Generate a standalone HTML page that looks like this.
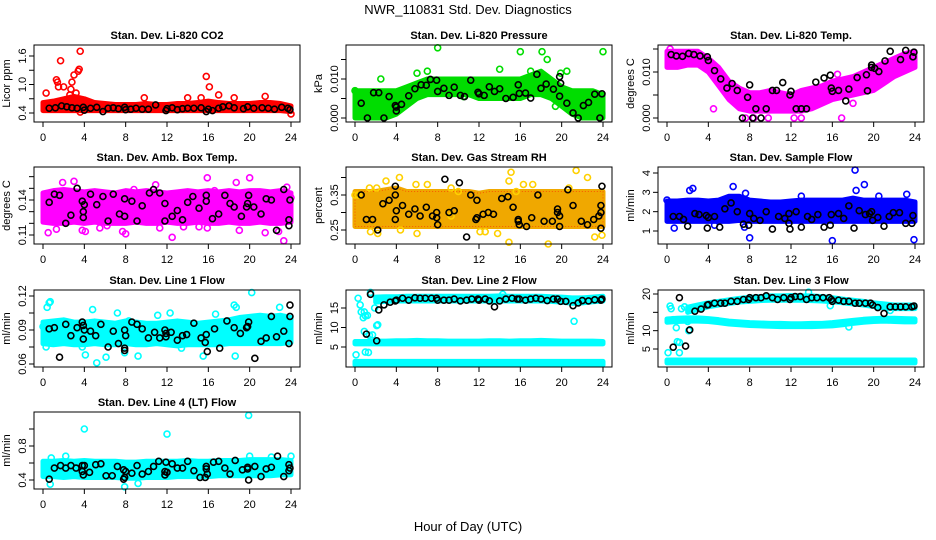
<!DOCTYPE html>
<html><head><meta charset="utf-8"><style>
html,body{margin:0;padding:0;background:#fff;}
svg{display:block;font-family:"Liberation Sans",Arial,sans-serif;}
</style></head><body>
<svg id="chart" width="936" height="540" viewBox="0 0 936 540">
<text x="468" y="14" text-anchor="middle" font-size="13">NWR_110831  Std. Dev. Diagnostics</text>
<text x="468" y="531" text-anchor="middle" font-size="13">Hour of Day (UTC)</text>
</svg>
<script>
const hours = [0,1,2,3,4,5,6,7,8,9,10,11,12,13,14,15,16,17,18,19,20,21,22,23,24];
const xTicks = [0,4,8,12,16,20,24];

const co2Lo = [0.45,0.45,0.45,0.45,0.45,0.45,0.45,0.45,0.45,0.45,0.45,0.45,0.45,0.45,0.45,0.45,0.45,0.45,0.45,0.45,0.45,0.45,0.45,0.45,0.43];
const co2Hi = [0.62,0.65,0.7,0.75,0.7,0.62,0.6,0.58,0.58,0.58,0.6,0.58,0.58,0.6,0.6,0.62,0.65,0.62,0.6,0.6,0.6,0.62,0.62,0.6,0.55];
const co2Pts = [[0.3,0.82],[1.3,1.1],[1.4,1.05],[1.5,0.95],[1.7,1.5],[2.0,0.95],[2.7,0.9],[2.8,1.05],[3.0,1.2],[3.4,1.28],[3.5,1.32],[3.6,1.7],[3.2,0.82],[2.6,0.78],[15.8,1.17],[16.1,0.95],[17.0,0.78],[9.8,0.72],[15.3,0.72],[18.5,0.72],[21.5,0.75],[24,0.38],[3.6,0.42],[14,0.72]];
const co2Ref = [[0.6,0.5],[1.2,0.51],[1.8,0.55],[2.3,0.53],[2.8,0.51],[3.3,0.5],[3.9,0.52],[4,0.46],[4.6,0.5],[5.2,0.52],[5.8,0.43],[6.3,0.5],[6.8,0.51],[7.3,0.49],[7.9,0.52],[8,0.47],[8.5,0.48],[9.0,0.5],[9.6,0.48],[10.2,0.48],[10.9,0.57],[11.9,0.45],[12,0.49],[12.5,0.51],[13,0.47],[13.5,0.49],[14,0.5],[14.6,0.5],[15.3,0.51],[15.8,0.43],[16,0.48],[16.4,0.45],[17,0.5],[17.4,0.53],[18,0.55],[18.5,0.51],[19.4,0.49],[19.8,0.53],[20.4,0.5],[21.2,0.51],[21.8,0.5],[22.4,0.48],[23.1,0.52],[23.7,0.5],[23.9,0.47]];

const presLo = [0,0,0,0,0.001,0.003,0.005,0.006,0.006,0.006,0.006,0.006,0.005,0.005,0.005,0.005,0.005,0.006,0.006,0.005,0.003,0.001,0,0,0];
const presHi = [0.007,0.007,0.007,0.007,0.007,0.008,0.009,0.010,0.010,0.010,0.010,0.010,0.010,0.010,0.010,0.010,0.010,0.011,0.012,0.010,0.008,0.007,0.007,0.007,0.006];
const presPts = [[8,0.018],[16,0.017],[18.1,0.017],[18.6,0.015],[24,0.017],[7,0.012],[14,0.0125],[6,0.0115],[2.5,0.01],[17,0.012],[19.9,0.0115],[20.5,0.012],[19.4,0.003],[0,0.007],[10.5,0.0055]];
const presRef = [[0.6,0.0038],[1.2,0],[1.8,0.0065],[2.3,0.0065],[2.8,0],[3.3,0.0055],[3.9,0.0032],[4,0.0018],[4,0.0028],[4.5,0.0035],[5.2,0.0057],[5.8,0.0075],[6.4,0.0085],[6.9,0.0084],[7.3,0.0099],[7.9,0.0097],[8,0.0068],[8.6,0.0076],[9.1,0.0058],[9.6,0.0079],[10.2,0.0058],[10.6,0.0055],[11.2,0.0097],[11.9,0.0066],[12,0.0062],[12.5,0.0058],[13,0.008],[13.5,0.0068],[14,0.0075],[14.6,0.005],[15.3,0.0053],[15.8,0.0085],[15.9,0.0063],[16.5,0.0064],[17,0.0051],[17.6,0.0112],[18,0.0076],[18.5,0.0087],[19.2,0.0074],[19.8,0.0106],[19.9,0.0089],[19.8,0.0056],[20.5,0.0038],[21.1,0.0013],[21.6,0],[22.1,0.0032],[22.6,0.004],[23.2,0.0061],[23.7,0],[23.9,0.0062]];

const tempLo = [0.011,0.011,0.0115,0.0115,0.010,0.007,0.004,0.002,0.0015,0.0015,0.0015,0.0015,0.0015,0.0015,0.002,0.003,0.004,0.0045,0.005,0.0055,0.006,0.0075,0.009,0.010,0.011];
const tempHi = [0.0145,0.0145,0.0145,0.0145,0.013,0.011,0.008,0.0065,0.0055,0.0055,0.006,0.0055,0.005,0.006,0.0065,0.007,0.008,0.0085,0.009,0.010,0.011,0.012,0.013,0.014,0.0145];
const tempPts = [[7.6,0],[8.4,0],[9.8,0],[12.3,0],[13.0,0],[16.9,0],[4.5,0.002],[9.9,0.0045],[18,0.0032],[0.3,0.015],[16.5,0.0095]];
const tempRef = [[0.4,0.0138],[0.9,0.0135],[1.5,0.0134],[2.1,0.014],[2.6,0.0138],[3.2,0.0135],[3.9,0.0133],[4,0.0125],[4.6,0.0103],[5.2,0.0085],[5.8,0.0065],[6.3,0.0075],[6.8,0.006],[7.3,0],[7.8,0.0045],[8,0.0072],[8.3,0],[8.6,0.002],[9.1,0],[9.6,0.002],[10.2,0.006],[10.6,0.006],[11.2,0.0077],[11.9,0.005],[12,0.0058],[12.5,0.002],[13,0.002],[13.5,0.002],[14.4,0.0078],[15.2,0.0087],[15.8,0.0093],[15.9,0.0065],[16,0.0058],[16.6,0.006],[17.3,0.0037],[17.6,0.0063],[18.4,0.0088],[19.3,0.0094],[19.4,0.0059],[19.8,0.011],[19.8,0.0115],[20.1,0.0108],[20.5,0.0101],[21.1,0.0124],[21.6,0.0145],[22.6,0.0127],[23.1,0.0147],[23.8,0.0133],[23.9,0.0143]];

const ambLo = [0.121,0.12,0.12,0.121,0.12,0.121,0.12,0.12,0.12,0.121,0.12,0.12,0.121,0.12,0.12,0.121,0.12,0.12,0.121,0.12,0.12,0.121,0.12,0.12,0.121];
const ambHi = [0.146,0.148,0.149,0.148,0.147,0.148,0.147,0.146,0.148,0.147,0.148,0.147,0.146,0.147,0.148,0.147,0.148,0.147,0.148,0.147,0.148,0.148,0.147,0.148,0.146];
const ambPts = [[1.9,0.155],[3.0,0.156],[0.5,0.112],[1.3,0.115],[3.8,0.114],[4.1,0.113],[5.5,0.116],[7.7,0.113],[8.0,0.111],[10.9,0.153],[12.5,0.108],[15.1,0.117],[15.9,0.116],[15.9,0.159],[16.6,0.148],[18.7,0.155],[19.0,0.114],[20.0,0.159],[22.8,0.113],[23.3,0.105],[23.6,0.151],[24,0.142],[8.8,0.149],[0.3,0.134],[13.6,0.117],[21.5,0.112],[11.3,0.116],[6.2,0.118]];
const ambRef = [[0.6,0.138],[1.1,0.145],[1.6,0.144],[2.2,0.12],[2.7,0.127],[3.3,0.15],[3.8,0.139],[3.9,0.13],[3.9,0.125],[4,0.136],[4.6,0.145],[5.2,0.136],[5.8,0.143],[6.3,0.122],[6.8,0.145],[7.4,0.128],[7.9,0.141],[7.9,0.126],[8.6,0.139],[9.1,0.122],[9.6,0.135],[10.3,0.146],[10.7,0.149],[11.3,0.146],[11.8,0.137],[11.8,0.122],[12.5,0.126],[13,0.131],[13.5,0.123],[14,0.138],[14.5,0.143],[15.1,0.133],[15.8,0.144],[15.8,0.139],[16.4,0.124],[17,0.128],[17.6,0.144],[18.1,0.137],[18.5,0.134],[19.2,0.126],[19.7,0.134],[19.8,0.137],[19.9,0.144],[20.4,0.134],[21.1,0.128],[21.6,0.141],[22.1,0.14],[22.6,0.114],[23.3,0.149],[23.8,0.123],[23.8,0.118],[23.9,0.14]];

const rhLo = [0.26,0.26,0.26,0.26,0.26,0.26,0.26,0.26,0.26,0.26,0.26,0.26,0.26,0.26,0.26,0.26,0.26,0.26,0.26,0.26,0.26,0.26,0.26,0.26,0.26];
const rhHi = [0.36,0.36,0.36,0.365,0.37,0.36,0.36,0.36,0.36,0.36,0.36,0.36,0.355,0.36,0.36,0.36,0.36,0.36,0.36,0.36,0.36,0.36,0.36,0.36,0.36];
const rhPts = [[0.3,0.35],[1.4,0.37],[2.1,0.37],[3,0.39],[4.3,0.40],[5.9,0.38],[7,0.38],[9.3,0.37],[10,0.36],[12.1,0.245],[12.6,0.245],[13.8,0.24],[14.9,0.39],[15.1,0.415],[15.6,0.36],[16.3,0.38],[17.2,0.38],[18.7,0.21],[21.4,0.42],[22.5,0.40],[23.2,0.23],[23.9,0.235],[2.2,0.24],[6,0.24],[4.4,0.25],[1.5,0.245],[14.9,0.215],[20.7,0.37],[0,0.35],[9.3,0.29]];
const rhRef = [[0.6,0.35],[1.1,0.28],[1.7,0.28],[2.2,0.25],[2.7,0.325],[3.3,0.335],[3.9,0.35],[3.9,0.375],[4,0.305],[3.9,0.28],[4.6,0.32],[5.2,0.295],[5.8,0.31],[6.3,0.29],[6.9,0.315],[7.5,0.29],[7.9,0.285],[7.9,0.3],[8,0.265],[8.7,0.395],[9.1,0.3],[9.6,0.305],[10.1,0.385],[10.8,0.23],[11.2,0.35],[11.7,0.28],[11.8,0.335],[11.8,0.285],[12.4,0.295],[12.9,0.3],[13.4,0.295],[14.2,0.34],[14.8,0.345],[15.3,0.315],[15.8,0.28],[15.8,0.275],[15.9,0.265],[16.6,0.26],[17.1,0.285],[17.7,0.35],[18.3,0.275],[19.1,0.275],[19.6,0.31],[19.6,0.3],[19.8,0.29],[19.8,0.26],[20.6,0.365],[21.1,0.32],[21.9,0.275],[22.5,0.265],[23.1,0.28],[23.6,0.29],[23.8,0.255],[23.8,0.3],[23.8,0.32],[23.9,0.375]];

const sfLo = [1.5,1.5,1.5,1.5,1.5,1.5,1.5,1.55,1.5,1.5,1.5,1.5,1.5,1.5,1.5,1.5,1.5,1.5,1.5,1.5,1.5,1.5,1.5,1.5,1.5];
const sfHi = [2.55,2.55,2.6,2.6,2.55,2.6,2.8,2.8,2.6,2.55,2.5,2.5,2.55,2.6,2.6,2.6,2.6,2.6,2.7,2.6,2.6,2.6,2.6,2.6,2.5];
const sfPts = [[0.7,1.15],[2.2,3.1],[2.5,3.2],[6.4,3.3],[7.6,2.95],[8,0.65],[13,2.8],[16,0.5],[18.2,4.15],[18.3,3.1],[19.1,3.4],[19.7,2.5],[23.2,2.9],[23.9,0.55],[0,2.6],[20.5,2.8],[4.6,1.3],[7.5,1.2]];
const sfRef = [[0.6,1.75],[1.2,1.75],[1.6,1.6],[2,1.25],[2.7,1.9],[3.1,1.85],[3.8,1.8],[3.9,1.15],[4,1.7],[4.6,1.75],[5.1,1.2],[5.6,2.15],[6.2,2.45],[6.8,2],[7.4,1.35],[7.9,1.3],[8,1.9],[8.4,1.65],[9,1.55],[9.6,2],[10.2,1.1],[10.8,1.75],[11.4,1.65],[11.8,1.9],[11.8,1.4],[11.9,1.1],[12.5,2],[13,1.2],[13.6,1.75],[14,1.6],[14.6,1.85],[15.2,1.2],[15.8,1.3],[15.9,1.85],[16.6,1.9],[17.1,1.65],[17.6,2.3],[18.1,1.15],[18.6,2.05],[19.2,1.85],[19.6,1.9],[19.8,2],[19.9,1.55],[20.4,1.7],[21,1.25],[21.5,1.75],[21.9,1.95],[22.5,1.95],[23.1,1.4],[23.7,1.4],[23.8,1.8]];

const l1Lo = [0.078,0.077,0.078,0.077,0.077,0.078,0.077,0.077,0.078,0.077,0.077,0.078,0.077,0.076,0.077,0.077,0.077,0.077,0.078,0.078,0.078,0.078,0.078,0.078,0.079];
const l1Hi = [0.097,0.098,0.099,0.097,0.097,0.098,0.097,0.096,0.098,0.097,0.096,0.096,0.097,0.098,0.097,0.096,0.097,0.098,0.099,0.101,0.102,0.103,0.102,0.103,0.101];
const l1Pts = [[0.3,0.075],[0.4,0.11],[0.6,0.114],[0.7,0.115],[3.8,0.075],[4.1,0.068],[4.8,0.108],[5.2,0.061],[6.1,0.066],[7.2,0.105],[7.9,0.07],[8.3,0.098],[9.2,0.067],[11.1,0.103],[12.3,0.105],[13.4,0.074],[15.5,0.067],[18.5,0.112],[18.7,0.11],[18.6,0.067],[20.2,0.123],[22.9,0.11],[23.8,0.088],[16.7,0.104],[0,0.093]];
const l1Ref = [[0.6,0.091],[1.1,0.092],[1.6,0.066],[2.2,0.095],[2.7,0.085],[3.3,0.092],[3.8,0.097],[3.9,0.082],[3.9,0.094],[4,0.09],[4.6,0.089],[5.1,0.085],[5.6,0.095],[6.3,0.075],[6.8,0.089],[7.3,0.078],[7.9,0.072],[7.9,0.074],[7.9,0.09],[8,0.085],[8.6,0.097],[9.1,0.095],[9.6,0.091],[10.2,0.083],[10.8,0.088],[11.3,0.083],[11.8,0.09],[11.9,0.087],[11.9,0.084],[12.4,0.088],[13,0.081],[13.5,0.085],[13.9,0.086],[14.6,0.096],[15.3,0.083],[15.7,0.079],[15.8,0.086],[15.9,0.071],[16.6,0.091],[17.1,0.074],[17.8,0.098],[18.5,0.092],[19.1,0.087],[19.7,0.092],[19.8,0.093],[19.9,0.097],[20.5,0.065],[21.1,0.08],[21.6,0.083],[22.1,0.102],[22.6,0.084],[23.3,0.089],[23.8,0.078],[23.9,0.102],[23.9,0.112]];

const l2LoA = [0.4,0.4,0.4,0.4,0.4,0.4,0.4,0.4,0.4,0.4,0.4,0.4,0.4,0.4,0.4,0.4,0.4,0.4,0.4,0.4,0.4,0.4,0.4,0.4,0.4];
const l2HiA = [1.3,1.3,1.3,1.3,1.3,1.3,1.3,1.3,1.3,1.3,1.3,1.3,1.3,1.3,1.3,1.3,1.3,1.3,1.3,1.3,1.3,1.3,1.3,1.3,1.3];
const l2LoB = [5.8,5.8,5.8,5.8,5.8,5.8,5.8,5.8,5.8,5.8,5.8,5.8,5.8,5.8,5.8,5.8,5.8,5.8,5.8,5.8,5.8,5.8,5.8,5.8,5.8];
const l2HiB = [6.4,6.4,6.5,6.5,6.6,6.6,6.7,6.6,6.6,6.5,6.5,6.5,6.5,6.6,6.6,6.5,6.6,6.6,6.7,6.6,6.5,6.5,6.5,6.5,6.4];
const l2LoC = [null,null,16.5,16.7,16.8,16.8,16.8,16.8,16.8,16.8,16.8,16.8,16.8,16.8,16.8,16.8,16.8,16.8,16.8,16.7,16.5,16.2,16.3,16.6,16.8];
const l2HiC = [null,null,17.8,17.9,17.9,18,18,18,18,18,18,18,18,18,18.1,18,18,18,18,17.9,17.8,17.6,17.6,17.8,18];
const l2Pts = [[0.1,3],[0.3,17.5],[0.5,15.8],[0.6,14],[0.8,12.5],[0.9,9],[1,3.7],[1,13],[1.3,3.6],[1.4,8],[1.5,19],[1.7,8.1],[1.9,15],[2.1,10.5],[2.2,10.7],[1.2,13.1],[21.2,11.6],[14.3,18.5],[0.9,14]];
const l2Ref = [[1.1,8.3],[1.5,18.5],[2.1,6.6],[2.3,14.5],[2.8,15.8],[3.4,16.5],[3.9,16.8],[4,17],[4.6,17.5],[5.2,17],[5.8,17.6],[6.3,17.5],[6.8,17.5],[7.4,17.5],[7.9,17.5],[8,17],[8.6,17],[9.1,17],[9.6,17.3],[10.2,16.8],[10.8,17],[11.3,17.3],[11.9,17.3],[12,17],[12.6,17.3],[13,16.8],[13.5,15.3],[14,16.8],[14.6,17.3],[15.2,17.5],[15.7,17.3],[15.9,17.3],[16.5,17],[17,17.3],[17.5,17.5],[18,17.3],[18.6,16.9],[19.2,17.3],[19.6,17.3],[19.9,16.7],[20.4,16.7],[21.1,15.6],[21.6,16.3],[22,16.9],[22.6,16.8],[23.2,17.1],[23.8,17],[23.9,17.3]];

const l3LoA = [1.2,1.2,1.2,1.2,1.2,1.2,1.2,1.2,1.2,1.2,1.2,1.2,1.2,1.2,1.2,1.2,1.2,1.2,1.2,1.2,1.2,1.2,1.2,1.2,1.2];
const l3HiA = [2,2,2,2,2,2,2,2,2,2,2,2,2,2,2,2,2,2,2,2,2,2,2,2,2];
const l3LoB = [12.3,12.5,12.6,12.6,12.5,12.2,11.8,11.6,11.4,11.3,11.2,11.1,11.1,11.1,11.1,11.2,11.3,11.6,12,12.3,12.5,12.6,12.5,12.4,12.4];
const l3HiB = [13.2,13.4,13.5,13.5,13.3,13,12.6,12.4,12.2,12.1,12,12,11.9,11.9,12,12,12.2,12.5,12.8,13.1,13.3,13.4,13.4,13.3,13.2];
const l3LoC = [null,null,15,15.8,16.5,17,17.4,17.8,18,18.2,18.3,18.3,18.3,18.3,18.2,18.1,17.9,17.6,17.3,17,16.6,16.2,16,16,16];
const l3HiC = [null,null,16.4,17,17.6,18,18.4,18.8,19.1,19.3,19.5,19.5,19.6,19.5,19.5,19.3,19,18.6,18.3,18,17.6,17.3,17,17,17];
const l3Pts = [[0.1,4],[0.3,16.7],[0.4,16],[0.6,13],[0.9,10.8],[1,7],[1.2,6.8],[1.2,4],[1.4,16],[2,12.5],[1.7,16.5],[2.1,10],[15.8,16.8],[17.6,11],[21.6,15.5],[13.7,20.5]];
const l3Ref = [[0.6,5.5],[1.2,19],[1.8,5.8],[2.2,10.2],[2.7,15.3],[3.3,15.9],[3.9,17],[4,17.1],[4.6,17.5],[5.2,17.5],[5.6,17.5],[6.2,18],[6.8,18],[7.4,18.5],[7.9,18.5],[8,19],[8.6,19],[9.1,19],[9.6,19.5],[10.2,19],[10.7,18.5],[11.3,19],[11.9,18.5],[12,19],[12.4,19.3],[12.9,19.3],[13.5,18.5],[14,19],[14.5,19],[15.1,19],[15.7,19],[15.9,18.5],[16,18],[16.6,18.3],[17.1,18],[17.6,18],[18.2,17.5],[18.6,17.5],[19.2,17.5],[19.7,17.5],[19.9,17],[20.4,16.3],[21,14.7],[21.6,16.5],[22.1,16.5],[22.6,16.5],[23.1,16.5],[23.7,16.5],[23.9,16.7]];

const l4Lo = [0.44,0.44,0.43,0.44,0.43,0.43,0.43,0.43,0.42,0.42,0.43,0.43,0.43,0.44,0.44,0.44,0.44,0.45,0.45,0.45,0.45,0.45,0.45,0.46,0.46];
const l4Hi = [0.62,0.62,0.63,0.62,0.63,0.62,0.62,0.62,0.61,0.61,0.62,0.62,0.62,0.62,0.63,0.62,0.62,0.63,0.63,0.63,0.64,0.64,0.64,0.64,0.63];
const l4Pts = [[0.7,0.35],[4,1.0],[7.9,0.32],[12,0.94],[19.9,1.16],[20,0.68],[24,0.68],[0.8,0.66],[2.2,0.68],[22.1,0.67],[9.2,0.36]];
const l4Ref = [[0.6,0.41],[1.1,0.54],[1.7,0.57],[2.2,0.54],[2.7,0.57],[3.2,0.54],[3.8,0.57],[3.8,0.5],[3.9,0.46],[4,0.57],[4.5,0.49],[5.1,0.58],[5.6,0.59],[6.1,0.45],[6.7,0.45],[7.2,0.56],[7.8,0.52],[7.8,0.41],[7.9,0.43],[8,0.5],[8.6,0.48],[9.1,0.57],[9.6,0.47],[10.2,0.5],[10.7,0.56],[11.2,0.62],[11.8,0.5],[11.8,0.46],[11.9,0.61],[12,0.49],[12.5,0.59],[13,0.54],[13.5,0.54],[14,0.62],[14.6,0.51],[15.2,0.43],[15.7,0.43],[15.8,0.56],[15.8,0.53],[15.9,0.47],[16.5,0.61],[17,0.62],[17.6,0.54],[18.1,0.47],[18.6,0.63],[19.3,0.52],[19.8,0.53],[19.8,0.55],[19.9,0.4],[20.5,0.56],[21.1,0.44],[21.6,0.53],[22.1,0.55],[22.7,0.68],[23.3,0.44],[23.8,0.58],[23.8,0.51],[23.9,0.54]];

const co2Ticks=[0.4,0.7,1.0,1.3,1.6], co2Labels=["0.4","","1.0","","1.6"];
const presTicks=[0,0.005,0.01,0.015], presLabels=["0.000","","0.010",""];
const tempTicks=[0,0.005,0.01,0.015], tempLabels=["0.000","","0.010",""];
const ambTicks=[0.11,0.12,0.13,0.14,0.15,0.16], ambLabels=["0.11","","","0.14","",""];
const rhTicks=[0.25,0.30,0.35,0.40], rhLabels=["0.25","","0.35",""];
const sfTicks=[1,2,3,4], sfLabels=["1","2","3","4"];
const l1Ticks=[0.06,0.075,0.09,0.105,0.12], l1Labels=["0.06","","0.09","","0.12"];
const l2Ticks=[5,10,15], l2Labels=["5","10","15"];
const l3Ticks=[5,10,15,20], l3Labels=["5","10","","20"];
const l4Ticks=[0.4,0.6,0.8,1.0], l4Labels=["0.4","","0.8",""];

const NS="http://www.w3.org/2000/svg";
const svg=document.getElementById('chart');
function mk(tag,attrs,parent){const e=document.createElementNS(NS,tag);for(const k in attrs)e.setAttribute(k,attrs[k]);(parent||svg).appendChild(e);return e;}

const colLeft=[34,346,658], rowTop=[45,167,290,412], W=266, H=77;
const panels=[
 {key:'co2',title:'Stan. Dev. Li-820 CO2',yl:'Licor ppm',c:0,r:0,col:'#ff0000',bands:[[co2Lo,co2Hi]],pts:co2Pts,ref:co2Ref,ticks:co2Ticks,labels:co2Labels,va:0.4,pa:113,vb:1.6,pb:56},
 {key:'pressure',title:'Stan. Dev. Li-820 Pressure',yl:'kPa',c:1,r:0,col:'#00dd00',bands:[[presLo,presHi]],pts:presPts,ref:presRef,ticks:presTicks,labels:presLabels,va:0,pa:118,vb:0.01,pb:79},
 {key:'temp',title:'Stan. Dev. Li-820 Temp.',yl:'degrees C',c:2,r:0,col:'#ff00ff',bands:[[tempLo,tempHi]],pts:tempPts,ref:tempRef,ticks:tempTicks,labels:tempLabels,va:0,pa:118,vb:0.01,pb:72},
 {key:'amb-box',title:'Stan. Dev. Amb. Box Temp.',yl:'degrees C',c:0,r:1,col:'#ff00ff',bands:[[ambLo,ambHi]],pts:ambPts,ref:ambRef,ticks:ambTicks,labels:ambLabels,va:0.11,pa:235,vb:0.14,pb:200},
 {key:'rh',title:'Stan. Dev. Gas Stream RH',yl:'percent',c:1,r:1,col:'#f0a800',col2:'#ff2000',bands:[[rhLo,rhHi]],pts:rhPts,ref:rhRef,ticks:rhTicks,labels:rhLabels,va:0.25,pa:230,vb:0.35,pb:195},
 {key:'sample-flow',title:'Stan. Dev. Sample Flow',yl:'ml/min',c:2,r:1,col:'#0000ff',bands:[[sfLo,sfHi]],pts:sfPts,ref:sfRef,ticks:sfTicks,labels:sfLabels,va:1,pa:231,vb:4,pb:173},
 {key:'line1',title:'Stan. Dev. Line 1 Flow',yl:'ml/min',c:0,r:2,col:'#00ffff',bands:[[l1Lo,l1Hi]],pts:l1Pts,ref:l1Ref,ticks:l1Ticks,labels:l1Labels,va:0.06,pa:364,vb:0.12,pb:296},
 {key:'line2',title:'Stan. Dev. Line 2 Flow',yl:'ml/min',c:1,r:2,col:'#00ffff',bands:[[l2LoA,l2HiA],[l2LoB,l2HiB],[l2LoC,l2HiC]],pts:l2Pts,ref:l2Ref,ticks:l2Ticks,labels:l2Labels,va:5,pa:347,vb:15,pb:308},
 {key:'line3',title:'Stan. Dev. Line 3 Flow',yl:'ml/min',c:2,r:2,col:'#00ffff',bands:[[l3LoA,l3HiA],[l3LoB,l3HiB],[l3LoC,l3HiC]],pts:l3Pts,ref:l3Ref,ticks:l3Ticks,labels:l3Labels,va:5,pa:349,vb:20,pb:294},
 {key:'line4',title:'Stan. Dev. Line 4 (LT) Flow',yl:'ml/min',c:0,r:3,col:'#00ffff',bands:[[l4Lo,l4Hi]],pts:l4Pts,ref:l4Ref,ticks:l4Ticks,labels:l4Labels,va:0.4,pa:480,vb:0.8,pb:446}
];

panels.forEach(p=>{
 const L=colLeft[p.c], T=rowTop[p.r], B=T+H;
 const xs=h=>L+9+h*(248/24);
 const ys=v=>p.pa+(v-p.va)*(p.pb-p.pa)/(p.vb-p.va);
 const g=mk('g',{});
 
 
 const t=mk('text',{x:L+W/2,y:T-6,'text-anchor':'middle','font-size':11,'font-weight':'bold'},g);
 t.textContent=p.title;
 
 
 const yl=mk('text',{transform:`translate(${L-24},${T+H/2}) rotate(-90)`,'text-anchor':'middle','font-size':11},g);
 yl.textContent=p.yl;
 
 
 // bands
 p.bands.forEach((bd,bi)=>{
  const lo=bd[0],hi=bd[1];const up=[],dn=[];
  hours.forEach((h,i)=>{if(lo[i]!==null&&hi[i]!==null){up.push(xs(h)+','+ys(hi[i]));dn.unshift(xs(h)+','+ys(lo[i]));}});
  const pg=mk('polygon',{points:up.concat(dn).join(' '),fill:p.col,stroke:p.col,'stroke-width':5,'stroke-linejoin':'round'},g);
  
  
  if(p.col2){
   const pg2=mk('polygon',{points:up.concat(dn).join(' '),fill:'none',stroke:p.col2,'stroke-width':1,'stroke-dasharray':'1 2',opacity:0.6},g);
   
   
  }
 });
 p.pts.forEach(d=>{
  const c=mk('circle',{cx:xs(d[0]),cy:ys(d[1]),r:3,fill:'none',stroke:p.col2?'#ffd000':p.col,'stroke-width':1.6},g);
  
  
 });
 p.ref.forEach(d=>{
  const c=mk('circle',{cx:xs(d[0]),cy:ys(d[1]),r:3,fill:'none',stroke:'#000','stroke-width':1.6},g);
  
  
 });
 const box=mk('rect',{x:L,y:T,width:W,height:H,fill:'none',stroke:'#000','stroke-width':1},g);
 
 
 // x axis
 mk('line',{x1:xs(0),x2:xs(24),y1:B,y2:B,stroke:'#000'},g);
 xTicks.forEach(h=>{
  mk('line',{x1:xs(h),x2:xs(h),y1:B,y2:B+5,stroke:'#000'},g);
  const tl=mk('text',{x:xs(h),y:B+19,'text-anchor':'middle','font-size':11},g);
  tl.textContent=h;
  
  
 });
 p.ticks.forEach((v,i)=>{
  const y=ys(v);
  mk('line',{x1:L-5,x2:L,y1:y,y2:y,stroke:'#000'},g);
  if(p.labels[i]){
   const tl=mk('text',{transform:`translate(${L-8},${y}) rotate(-90)`,'text-anchor':'middle','font-size':11},g);
   tl.textContent=p.labels[i];
   
   
  }
 });
});
</script>
</body></html>
